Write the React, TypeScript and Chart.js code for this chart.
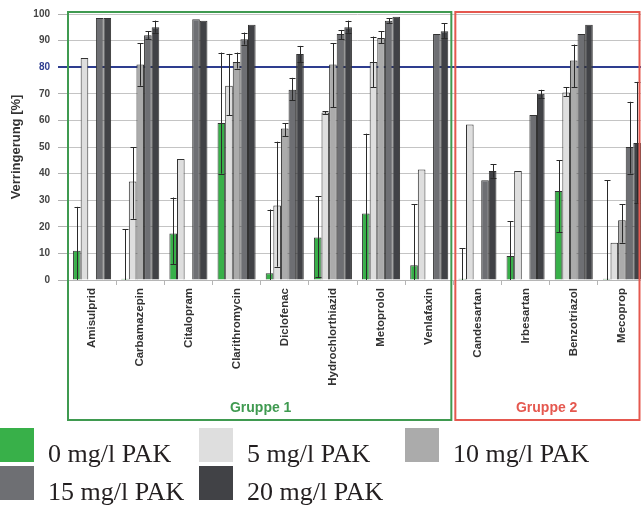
import React, { useEffect, useRef } from 'react';
import { Chart, registerables } from 'chart.js';

Chart.register(...registerables);

const categories = [
  'Amisulprid', 'Carbamazepin', 'Citalopram', 'Clarithromycin', 'Diclofenac',
  'Hydrochlorthiazid', 'Metoprolol', 'Venlafaxin', 'Candesartan', 'Irbesartan',
  'Benzotriazol', 'Mecoprop',
];

const seriesLabels = ['0 mg/l PAK', '5 mg/l PAK', '10 mg/l PAK', '15 mg/l PAK', '20 mg/l PAK'];
const seriesColors = ['#38b049', '#dedede', '#ababab', '#6e6f73', '#414246'];

const pak0 = [11, 0.5, 17.5, 59, 2.5, 16, 25, 5.5, 0.5, 9, 33.5, 0.5];
const pak0Lo = [0, 0, 6, 40, 0, 1, 0, 0, 0, 0, 18, 0];
const pak0Hi = [27.5, 19, 31, 85.5, 26.5, 31.5, 55, 28.5, 12, 22, 45, 37.5];

const pak5 = [83.5, 37, 45.5, 73, 28, 63, 82, 41.5, 58.5, 41, 70.5, 14];
const pak5Lo = [null, 23, null, 62, 5, 62.5, 72.5, null, null, null, 69, null];
const pak5Hi = [null, 50, null, 85, 52, 63.5, 91.5, null, null, null, 72.5, null];

const pak10 = [null, 81, null, 82, 57, 81, 91, null, null, null, 82.5, 22.5];
const pak10Lo = [null, 73, null, 79.5, 54, 65, 89, null, null, null, 72.5, 14];
const pak10Hi = [null, 89, null, 85.5, 59, 89, 93.5, null, null, null, 88.5, 28.5];

const pak15 = [98.5, 92, 98, 90.5, 71.5, 92.5, 97.5, 92.5, 37.5, 62, 92.5, 50];
const pak15Lo = [null, 90.5, null, 88.5, 67.5, 90.5, 96.5, null, null, null, null, 40];
const pak15Hi = [null, 93.5, null, 93, 76, 94, 98.5, null, null, null, null, 67];

const pak20 = [98.5, 95, 97.5, 96, 85, 95, 99, 93.5, 41, 70, 96, 51.5];
const pak20Lo = [null, 93, null, null, 82, 93, null, 91, 38.5, 68.5, null, 29];
const pak20Hi = [null, 97.5, null, null, 88, 97.5, null, 96.5, 43.5, 71.5, null, 74.5];

const yTicks = [0, 10, 20, 30, 40, 50, 60, 70, 80, 90, 100];
const targetLine = 80;
const groupLabels = ['Gruppe 1', 'Gruppe 2'];
const groupSizes = [8, 4];

const seriesValues = [pak0, pak5, pak10, pak15, pak20];
const seriesLo = [pak0Lo, pak5Lo, pak10Lo, pak15Lo, pak20Lo];
const seriesHi = [pak0Hi, pak5Hi, pak10Hi, pak15Hi, pak20Hi];

const SANS = '"Liberation Sans", Arial, sans-serif';
const SERIF = '"Liberation Serif", "Times New Roman", serif';

const errorBarPlugin = {
  id: 'errorBars',
  afterDatasetsDraw(chart: any) {
    const ctx = chart.ctx;
    const y = chart.scales.y;
    ctx.save();
    ctx.strokeStyle = '#2a2a2a';
    ctx.lineWidth = 1;
    chart.data.datasets.forEach((ds: any, i: number) => {
      const meta = chart.getDatasetMeta(i);
      meta.data.forEach((el: any, j: number) => {
        const lo = seriesLo[i][j];
        const hi = seriesHi[i][j];
        if (lo == null || hi == null) return;
        const x = Math.round(el.x) + 0.5;
        const yLo = y.getPixelForValue(Math.max(lo, 0));
        const yHi = y.getPixelForValue(hi);
        ctx.beginPath();
        ctx.moveTo(x, yLo);
        ctx.lineTo(x, yHi);
        ctx.moveTo(x - 3, Math.round(yHi) + 0.5);
        ctx.lineTo(x + 3, Math.round(yHi) + 0.5);
        if (lo > 0.5) {
          ctx.moveTo(x - 3, Math.round(yLo) + 0.5);
          ctx.lineTo(x + 3, Math.round(yLo) + 0.5);
        }
        ctx.stroke();
      });
    });
    ctx.restore();
  },
};

const overlayPlugin = {
  id: 'overlay',
  afterDraw(chart: any) {
    const ctx = chart.ctx;
    const xs = chart.scales.x;
    const ys = chart.scales.y;
    const area = chart.chartArea;
    const split = (xs.getPixelForValue(groupSizes[0] - 1) + xs.getPixelForValue(groupSizes[0])) / 2;
    const top = ys.getPixelForValue(100) - 2;
    const bottom = 420;
    ctx.save();
    ctx.lineWidth = 2;
    ctx.strokeStyle = '#3f9a50';
    ctx.strokeRect(area.left, top, split - 2 - area.left, bottom - top);
    ctx.strokeStyle = '#e5584f';
    ctx.strokeRect(split + 2, top, 639.5 - (split + 2), bottom - top);
    ctx.font = `bold 14px ${SANS}`;
    ctx.textAlign = 'center';
    ctx.textBaseline = 'middle';
    ctx.fillStyle = '#3f9a50';
    ctx.fillText(groupLabels[0], (area.left + split) / 2, 408);
    ctx.fillStyle = '#e5584f';
    ctx.fillText(groupLabels[1], (split + 640) / 2, 408);

    const colX = [0, 199, 405];
    const rowY = [428, 466];
    ctx.font = `26px ${SERIF}`;
    ctx.textAlign = 'left';
    ctx.textBaseline = 'alphabetic';
    seriesLabels.forEach((lab, i) => {
      const row = i < 3 ? 0 : 1;
      const col = i < 3 ? i : i - 3;
      const sx = colX[col];
      const sy = rowY[row];
      ctx.fillStyle = seriesColors[i];
      ctx.fillRect(sx, sy, 34, 34);
      ctx.fillStyle = '#231f20';
      ctx.fillText(lab, sx + 48, sy + 34);
    });
    ctx.restore();
  },
};

export default function App() {
  const ref = useRef<HTMLCanvasElement>(null);
  useEffect(() => {
    const canvas = ref.current!;
    const chart = new Chart(canvas, {
      type: 'bar',
      data: {
        labels: categories,
        datasets: seriesLabels.map((label, i) => ({
          label,
          data: seriesValues[i] as any,
          backgroundColor: seriesColors[i],
          borderColor: '#333333',
          borderWidth: 1,
          categoryPercentage: 0.79,
          barPercentage: 1,
        })),
      },
      options: {
        responsive: false,
        animation: false,
        devicePixelRatio: 1,
        layout: { padding: { left: 0, top: 13, right: 4, bottom: 0 } },
        plugins: {
          legend: { display: false },
          tooltip: { enabled: false },
        },
        scales: {
          x: {
            afterFit(scale: any) { scale.height = 226; },
            grid: {
              drawOnChartArea: false,
              drawTicks: true,
              tickLength: 5,
              offset: true,
              color: '#b5b5b5',
            },
            border: { display: true, color: '#b5b5b5' },
            ticks: {
              autoSkip: false,
              minRotation: 90,
              maxRotation: 90,
              padding: 3,
              color: '#333333',
              font: { family: SANS, size: 11.5, weight: 'bold' },
            },
          },
          y: {
            min: 0,
            max: 100,
            afterFit(scale: any) { scale.width = 68; },
            afterBuildTicks(scale: any) { scale.ticks = yTicks.map((v) => ({ value: v })); },
            grid: {
              color: (c: any) => (c.tick && c.tick.value === targetLine ? '#2e3d8f' : '#c4c4c4'),
              lineWidth: (c: any) => (c.tick && c.tick.value === targetLine ? 2 : 1),
              tickLength: 10,
              tickColor: (c: any) => (c.tick && c.tick.value === targetLine ? '#2e3d8f' : '#b0b0b0'),
            },
            border: { display: true, color: '#b0b0b0' },
            ticks: {
              padding: 8,
              color: (c: any) => (c.tick && c.tick.value === targetLine ? '#2e3d8f' : '#444444'),
              font: { family: SANS, size: 10, weight: 'bold' },
            },
            title: {
              display: true,
              text: 'Verringerung [%]',
              color: '#333333',
              padding: { top: 9, bottom: 0 },
              font: { family: SANS, size: 13, weight: 'bold' },
            },
          },
        },
      },
      plugins: [errorBarPlugin, overlayPlugin],
    });
    return () => chart.destroy();
  }, []);
  return (
    <div style={{ position: 'absolute', left: 0, top: 0, width: 641, height: 506, overflow: 'hidden', background: '#ffffff' }}>
      <canvas ref={ref} width={650} height={506} style={{ display: 'block', width: 650, height: 506 }} />
    </div>
  );
}
